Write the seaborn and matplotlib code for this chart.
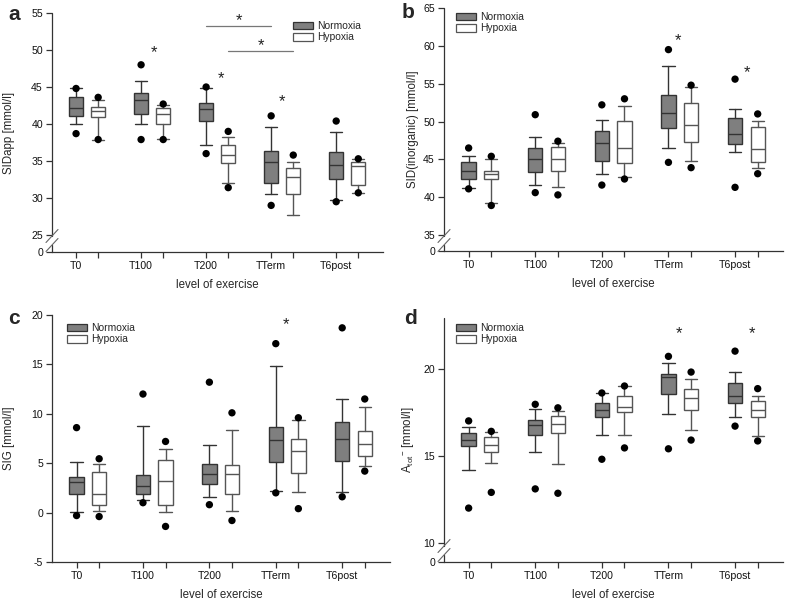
import numpy as np
import pandas as pd
import matplotlib
matplotlib.use("Agg")
import matplotlib.pyplot as plt
import seaborn as sns
from matplotlib.patches import Patch
from matplotlib.lines import Line2D

nan = np.nan
categories = ["T0", "T100", "T200", "TTerm", "T6post"]
groups = ["Normoxia", "Hypoxia"]

# ---- Panel a: SIDapp [mmol/l]  (p5, p10, q1, median, q3, p90, p95)
a_norm = dict(p5=[38.7, 37.9, 36.0, 29.0, 29.5], p10=[40.0, 40.0, 37.1, 30.5, 29.7],
              q1=[41.1, 41.4, 40.4, 32.0, 32.6], med=[42.1, 43.2, 42.0, 34.8, 34.4],
              q3=[43.7, 44.2, 42.8, 36.4, 36.2], p90=[44.8, 45.8, 44.8, 39.6, 38.9],
              p95=[44.8, 48.0, 45.0, 41.1, 40.4])
a_hyp = dict(p5=[37.9, 37.9, 31.4, nan, 30.7], p10=[37.9, 38.0, 32.0, 27.7, 30.7],
             q1=[41.0, 40.0, 34.7, 30.6, 31.7], med=[41.7, 41.4, 35.8, 32.8, 34.3],
             q3=[42.3, 42.1, 37.2, 34.0, 34.9], p90=[43.2, 42.6, 38.3, 34.9, 35.3],
             p95=[43.6, 42.7, 39.0, 35.8, 35.3])
a_stars_x = [1.2, 2.23, 3.17]
a_stars_y = [49.6, 46.1, 43.0]

# ---- Panel b: SID(inorganic) [mmol/l]
b_norm = dict(p5=[41.1, 40.6, 41.6, 44.6, 41.3], p10=[41.2, 41.6, 43.1, 46.5, 46.0],
              q1=[42.4, 43.3, 44.8, 49.2, 47.0], med=[43.5, 45.0, 47.1, 51.1, 48.4],
              q3=[44.6, 46.5, 48.7, 53.5, 50.4], p90=[45.5, 47.9, 50.2, 57.4, 51.7],
              p95=[46.5, 50.9, 52.2, 59.5, 55.6])
b_hyp = dict(p5=[38.9, 40.3, 42.4, 43.9, 43.1], p10=[39.2, 41.3, 42.6, 44.8, 43.9],
             q1=[42.4, 43.5, 44.5, 47.3, 44.7], med=[43.1, 45.1, 46.5, 49.6, 46.4],
             q3=[43.4, 46.6, 50.1, 52.4, 49.3], p90=[45.0, 47.2, 52.1, 54.5, 50.1],
             p95=[45.4, 47.4, 53.0, 54.8, 51.0])
b_stars_x = [3.15, 4.18]
b_stars_y = [60.7, 56.5]

# ---- Panel c: SIG [mmol/l]
c_norm = dict(p5=[-0.3, 1.0, 0.8, 2.0, 1.6], p10=[0.1, 1.25, 1.6, 2.2, 2.1],
              q1=[1.9, 1.9, 2.85, 5.1, 5.2], med=[3.05, 2.65, 3.9, 7.35, 7.4],
              q3=[3.6, 3.8, 4.9, 8.7, 9.2], p90=[5.1, 8.8, 6.8, 14.8, 11.5],
              p95=[8.6, 12.0, 13.2, 17.1, 18.7])
c_hyp = dict(p5=[-0.4, -1.4, -0.8, 0.4, 4.2], p10=[0.14, 0.1, 0.2, 2.1, 4.7],
             q1=[0.75, 0.75, 1.9, 4.0, 5.7], med=[1.9, 3.2, 3.9, 6.2, 6.9],
             q3=[4.1, 5.3, 4.85, 7.5, 8.3], p90=[4.9, 6.4, 8.4, 9.4, 10.7],
             p95=[5.45, 7.2, 10.1, 9.6, 11.5])
c_stars_x = [3.15]
c_stars_y = [19.0]

# ---- Panel d: Atot- [mmol/l]
d_norm = dict(p5=[12.0, 13.1, 14.8, 15.4, 16.7], p10=[14.2, 15.2, 16.2, 17.4, 17.25],
              q1=[15.55, 16.2, 17.2, 18.55, 18.0], med=[15.9, 16.75, 17.65, 19.5, 18.4],
              q3=[16.3, 17.05, 18.0, 19.7, 19.2], p90=[16.67, 17.7, 18.6, 20.3, 19.8],
              p95=[17.0, 17.95, 18.6, 20.7, 21.0])
d_hyp = dict(p5=[12.9, 12.85, 15.45, 15.9, 15.85], p10=[14.6, 14.55, 16.2, 16.5, 16.15],
             q1=[15.2, 16.3, 17.5, 17.6, 17.25], med=[15.6, 16.85, 17.8, 18.3, 17.65],
             q3=[16.1, 17.3, 18.4, 18.85, 18.15], p90=[16.35, 17.55, 19.0, 19.4, 18.4],
             p95=[16.4, 17.75, 19.0, 19.8, 18.85])
d_stars_x = [3.16, 4.25]
d_stars_y = [22.0, 22.0]

# ---------------------------------------------------------------------------
sns.set_style("ticks")
plt.rcParams["font.family"] = ["Liberation Sans", "DejaVu Sans"]
plt.rcParams["mathtext.fontset"] = "custom"
plt.rcParams["mathtext.rm"] = "Liberation Sans"

W, H = 787, 603
fig = plt.figure(figsize=(W / 100, H / 100), dpi=100)

AX = "#333333"
NORM_FC = "#7f7f7f"
NORM_EC = "#333333"
HYP_EC = "#555555"
OFF = 0.34


def px_rect(l, r, t, b):
    return [l / W, 1 - b / H, (r - l) / W, (b - t) / H]


def draw(ax, norm, hyp, ylim, yticks, yticklabels, ylabel, brk=None):
    pos = np.arange(len(categories))
    for st, off, fc, ec in [(norm, 0.0, NORM_FC, NORM_EC), (hyp, OFF, "white", HYP_EC)]:
        bstats = [dict(whislo=st["p10"][i], q1=st["q1"][i], med=st["med"][i],
                       q3=st["q3"][i], whishi=st["p90"][i], fliers=[])
                  for i in range(len(categories))]
        ax.bxp(bstats, positions=pos + off, widths=0.215, capwidths=0.185,
               showfliers=False, patch_artist=True, manage_ticks=False,
               boxprops=dict(facecolor=fc, edgecolor=ec, linewidth=1.0),
               medianprops=dict(color=ec, linewidth=1.0),
               whiskerprops=dict(color=ec, linewidth=1.0),
               capprops=dict(color=ec, linewidth=1.0))
    rows = []
    for g, st, off in [("Normoxia", norm, 0.0), ("Hypoxia", hyp, OFF)]:
        for i, c in enumerate(categories):
            for k in ("p5", "p95"):
                v = st[k][i]
                if not np.isnan(v):
                    rows.append(dict(group=g, cat=c, x=i + off, value=v))
    df = pd.DataFrame(rows)
    sns.scatterplot(data=df, x="x", y="value", color="black", s=28,
                    edgecolor="none", legend=False, ax=ax, zorder=5)

    ax.set_xlim(-0.37, 4.72)
    ax.set_ylim(*ylim)
    xt = []
    xl = []
    for i, c in enumerate(categories):
        xt += [i, i + OFF]
        xl += [c, ""]
    ax.set_xticks(xt)
    ax.set_xticklabels(xl, fontsize=7.6)
    ax.set_yticks(yticks)
    ax.set_yticklabels(yticklabels, fontsize=7.6)
    ax.tick_params(axis="both", direction="out", length=4, width=0.9,
                   color=AX, pad=2.5, labelcolor="#111111")
    ax.set_xlabel("level of exercise", fontsize=8.3)
    ax.set_ylabel(ylabel, fontsize=8.3)
    sns.despine(ax=ax)
    ax.spines["bottom"].set_color(AX)
    ax.spines["bottom"].set_linewidth(0.9)
    ax.spines["left"].set_color(AX)
    ax.spines["left"].set_linewidth(0.9)
    ax.grid(False)

    if brk is not None:
        # broken y axis: gap between brk[0] and brk[1] pixels above bottom
        ax.spines["left"].set_visible(False)
        bb = ax.get_position()
        hpx = bb.height * H
        wpx = bb.width * W
        lo, hi = brk
        tr = ax.transAxes
        ax.add_line(Line2D([0, 0], [hi / hpx, 1], transform=tr, color=AX, lw=0.9, clip_on=False))
        ax.add_line(Line2D([0, 0], [0, lo / hpx], transform=tr, color=AX, lw=0.9, clip_on=False))
        for yc in (hi, lo):
            ax.add_line(Line2D([-6 / wpx, 6 / wpx], [(yc - 6.5) / hpx, (yc + 6.5) / hpx],
                               transform=tr, color="#666666", lw=0.8, clip_on=False))


def stars(ax, xs, ys):
    for x, y in zip(xs, ys):
        ax.text(x, y, "*", ha="center", va="center", fontsize=12, color="#222222")


def legend(ax, x, y):
    handles = [Patch(facecolor=NORM_FC, edgecolor=NORM_EC, lw=0.9, label="Normoxia"),
               Patch(facecolor="white", edgecolor=HYP_EC, lw=0.9, label="Hypoxia")]
    ax.legend(handles=handles, loc="upper left", bbox_to_anchor=(x, y), frameon=False,
              fontsize=7.4, handlelength=2.0, handleheight=0.75, labelspacing=0.15,
              handletextpad=0.4, borderpad=0, borderaxespad=0)


# ---- Panel a
ax_a = fig.add_axes(px_rect(52, 383, 13, 252))
gap_a = (252 - 235) / 7.4
draw(ax_a, a_norm, a_hyp, (25 - gap_a, 55), [25 - gap_a, 25, 30, 35, 40, 45, 50, 55],
     ["0", "25", "30", "35", "40", "45", "50", "55"], "SIDapp [mmol/l]", brk=(7, 16))
stars(ax_a, a_stars_x, a_stars_y)
ax_a.plot([2, 3], [53.3, 53.3], color="#777777", lw=0.9)
ax_a.plot([2 + OFF, 3 + OFF], [49.9, 49.9], color="#777777", lw=0.9)
stars(ax_a, [2.5, 2.5 + OFF], [54.0, 50.6])
legend(ax_a, 0.727, 0.967)

# ---- Panel b
ax_b = fig.add_axes(px_rect(444, 783, 8, 251))
gap_b = (251 - 235) / 7.57
draw(ax_b, b_norm, b_hyp, (35 - gap_b, 65), [35 - gap_b, 35, 40, 45, 50, 55, 60, 65],
     ["0", "35", "40", "45", "50", "55", "60", "65"], "SID(inorganic) [mmol/l]", brk=(6, 15))
stars(ax_b, b_stars_x, b_stars_y)
legend(ax_b, 0.035, 0.984)

# ---- Panel c
ax_c = fig.add_axes(px_rect(52, 390, 315, 562))
draw(ax_c, c_norm, c_hyp, (-5, 20), [-5, 0, 5, 10, 15, 20],
     ["-5", "0", "5", "10", "15", "20"], "SIG [mmol/l]")
stars(ax_c, c_stars_x, c_stars_y)
legend(ax_c, 0.044, 0.968)

# ---- Panel d
ax_d = fig.add_axes(px_rect(444, 783, 318, 562))
gap_d = (562 - 543) / 17.4
draw(ax_d, d_norm, d_hyp, (10 - gap_d, 22.9), [10 - gap_d, 10, 15, 20],
     ["0", "10", "15", "20"], r"A$_{\mathrm{tot}}$$^{-}$ [mmol/l]", brk=(7, 16))
stars(ax_d, d_stars_x, d_stars_y)
legend(ax_d, 0.035, 0.98)

# label positions
for ax, lx, top, h, w in [(ax_a, 15, 252, 239, 331), (ax_b, 419, 251, 243, 339),
                          (ax_c, 15, 562, 247, 338), (ax_d, 416, 562, 244, 339)]:
    left = ax.get_position().x0 * W
    ax.yaxis.set_label_coords((lx - left) / w, 0.5)
    ax.xaxis.set_label_coords(0.5, -27 / h)
    ax.xaxis.label.set_va("top")

for txt, x, y in [("a", 8, 14), ("b", 402, 12), ("c", 8, 318), ("d", 404, 318)]:
    fig.text(x / W, 1 - y / H, txt, fontsize=15, fontweight="bold", ha="left", va="center")

fig.savefig("out.png", dpi=100)
